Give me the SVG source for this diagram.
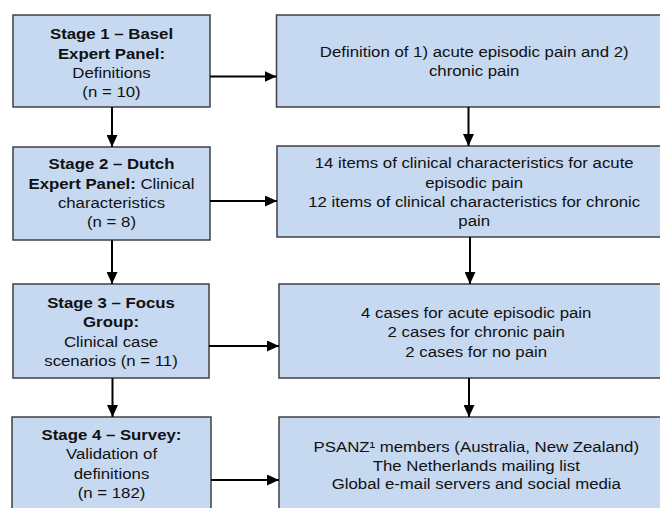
<svg xmlns="http://www.w3.org/2000/svg" width="660" height="508" viewBox="0 0 660 508">
<style>
.box{fill:#c6d9f1;stroke:#404040;stroke-width:1.5}
text{font-family:"Liberation Sans",Arial,sans-serif;font-size:15px;fill:#111;text-anchor:middle}
.b{font-weight:bold}
.con{stroke:#000;stroke-width:2;fill:none;marker-end:url(#ah)}
</style>
<defs>
<marker id="ah" markerUnits="userSpaceOnUse" markerWidth="12" markerHeight="11" refX="12" refY="5.5" orient="auto">
<path d="M0,0 L12,5.5 L0,11 z" fill="#000"/>
</marker>
</defs>
<rect width="660" height="508" fill="#fff"/>

<g id="stage1">
<rect class="box" x="13" y="15" width="197" height="92"/>
<g transform="translate(111.5 0) scale(1.12 1)">
<text x="0" y="39.5" class="b">Stage 1 – Basel</text>
<text x="0" y="59" class="b">Expert Panel:</text>
<text x="0" y="78.3">Definitions</text>
<text x="0" y="97.5">(n = 10)</text>
</g>
</g>

<g id="stage2">
<rect class="box" x="13" y="147" width="197" height="93"/>
<g transform="translate(111.5 0) scale(1.12 1)">
<text x="0" y="169.5" class="b">Stage 2 – Dutch</text>
<text x="0" y="189"><tspan class="b">Expert Panel:</tspan> Clinical</text>
<text x="0" y="208.5">characteristics</text>
<text x="0" y="227.5">(n = 8)</text>
</g>
</g>

<g id="stage3">
<rect class="box" x="13" y="284" width="196" height="94"/>
<g transform="translate(111 0) scale(1.12 1)">
<text x="0" y="308.3" class="b">Stage 3 – Focus</text>
<text x="0" y="327.5" class="b">Group:</text>
<text x="0" y="346.7">Clinical case</text>
<text x="0" y="366">scenarios (n = 11)</text>
</g>
</g>

<g id="stage4">
<rect class="box" x="12" y="417" width="199" height="100"/>
<g transform="translate(111.5 0) scale(1.12 1)">
<text x="0" y="440" class="b">Stage 4 – Survey:</text>
<text x="0" y="459.3">Validation of</text>
<text x="0" y="479">definitions</text>
<text x="0" y="498.3">(n = 182)</text>
</g>
</g>

<g id="result1">
<rect class="box" x="276.5" y="15" width="396" height="92"/>
<g transform="translate(474.2 0) scale(1.12 1)">
<text x="0" y="57.3">Definition of 1) acute episodic pain and 2)</text>
<text x="0" y="76.3">chronic pain</text>
</g>
</g>

<g id="result2">
<rect class="box" x="277" y="146" width="396" height="91"/>
<g transform="translate(474.2 0) scale(1.12 1)">
<text x="0" y="168.3">14 items of clinical characteristics for acute</text>
<text x="0" y="187.8">episodic pain</text>
<text x="0" y="207.3">12 items of clinical characteristics for chronic</text>
<text x="0" y="226.5">pain</text>
</g>
</g>

<g id="result3">
<rect class="box" x="279" y="284" width="394" height="94"/>
<g transform="translate(476.2 0) scale(1.12 1)">
<text x="0" y="318.3">4 cases for acute episodic pain</text>
<text x="0" y="337.5">2 cases for chronic pain</text>
<text x="0" y="356.7">2 cases for no pain</text>
</g>
</g>

<g id="result4">
<rect class="box" x="279" y="417" width="394" height="100"/>
<g transform="translate(476.3 0) scale(1.12 1)">
<text x="0" y="451.7">PSANZ¹ members (Australia, New Zealand)</text>
<text x="0" y="470.7">The Netherlands mailing list</text>
<text x="0" y="489.5">Global e-mail servers and social media</text>
</g>
</g>

<g id="connectors">
<line class="con" x1="112" y1="107" x2="112" y2="147"/>
<line class="con" x1="112" y1="240" x2="112" y2="284"/>
<line class="con" x1="112.5" y1="378" x2="112.5" y2="417"/>
<line class="con" x1="468.5" y1="107" x2="468.5" y2="146"/>
<line class="con" x1="470" y1="237" x2="470" y2="284"/>
<line class="con" x1="469" y1="378" x2="469" y2="417"/>
<line class="con" x1="210" y1="76.5" x2="276.5" y2="76.5"/>
<line class="con" x1="210" y1="201" x2="277" y2="201"/>
<line class="con" x1="209" y1="346" x2="279" y2="346"/>
<line class="con" x1="211" y1="480" x2="279" y2="480"/>
</g>
</svg>
